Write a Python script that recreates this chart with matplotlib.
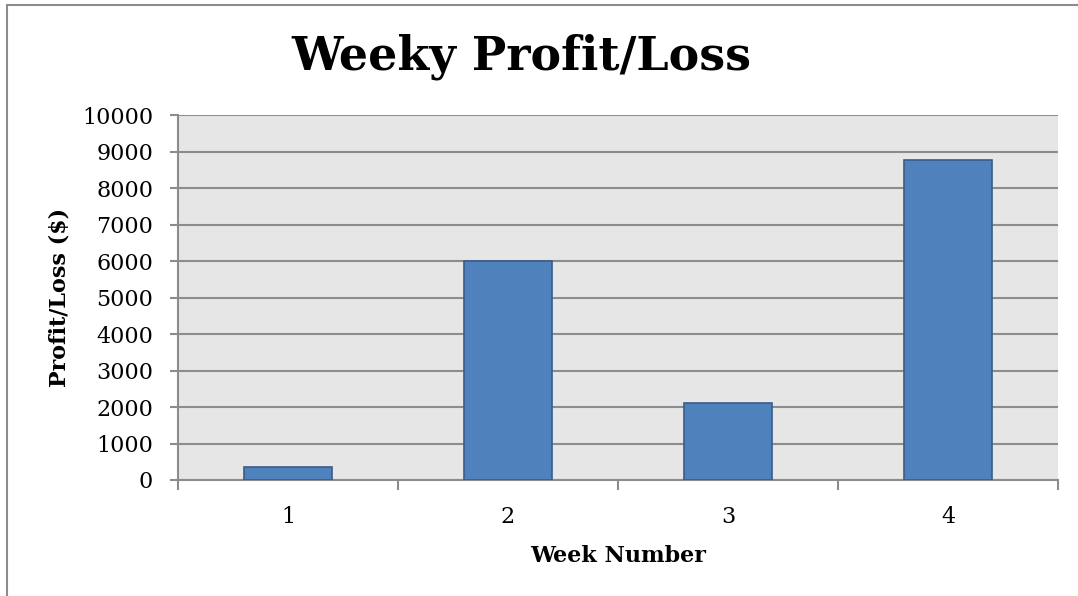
import matplotlib
matplotlib.use("Agg")
import matplotlib.pyplot as plt
from matplotlib.patches import Rectangle

weeks = ["1", "2", "3", "4"]
profit = [350, 5990, 2100, 8770]
yticks = list(range(0, 10001, 1000))

plt.rcParams['font.family'] = ['DejaVu Serif']

fig = plt.figure(figsize=(10.78, 5.96), dpi=100)
fig.patch.set_facecolor('white')
fig.patches.append(Rectangle((7/1078, -0.1), 1.1, 1.1 - 5/596, transform=fig.transFigure,
                             fill=False, edgecolor='#8c8c8c', linewidth=1.5))

ax = fig.add_axes([178/1078, 1 - 480/596, 880/1078, (480 - 115.2)/596])
ax.set_facecolor('#e6e6e6')
x = list(range(1, len(weeks) + 1))
ax.bar(x, profit, width=0.4, color='#4f81bd', edgecolor='#385d8a', linewidth=1.2, zorder=3)
ax.set_xlim(0.5, len(weeks) + 0.5)
ax.set_ylim(0, 10000)
ax.set_yticks(yticks)
ax.set_yticklabels([str(v) for v in yticks], fontsize=16)
ax.yaxis.grid(True, color='#8c8c8c', linewidth=1.5, zorder=1)
ax.set_axisbelow(True)

ax.set_xticks([i + 0.5 for i in range(0, len(weeks) + 1)])
ax.set_xticklabels([])
ax.set_xticks(x, minor=True)
ax.set_xticklabels(weeks, minor=True, fontsize=16)
ax.tick_params(axis='x', which='major', length=7, color='#8c8c8c', width=1.5)
ax.tick_params(axis='x', which='minor', length=0, pad=19)
ax.tick_params(axis='y', length=6, color='#8c8c8c', width=1.5, pad=12)

for s in ['top', 'right']:
    ax.spines[s].set_visible(False)
for s in ['left', 'bottom']:
    ax.spines[s].set_color('#8c8c8c')
    ax.spines[s].set_linewidth(1.5)

ax.set_xlabel('Week Number', fontsize=16, fontweight='bold', labelpad=12)
ax.set_ylabel('Profit/Loss ($)', fontsize=16, fontweight='bold', labelpad=8)
fig.text(521/1078, 1 - 57/596, 'Weeky Profit/Loss', ha='center', va='center',
         fontsize=33, fontweight='bold')

fig.savefig('out.png', dpi=100)
